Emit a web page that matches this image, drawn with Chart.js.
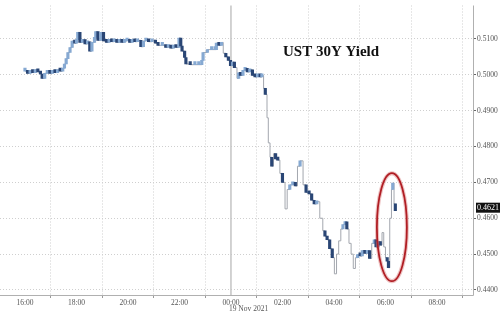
<!DOCTYPE html>
<html>
<head>
<meta charset="utf-8">
<script src="https://cdn.jsdelivr.net/npm/chart.js@4"></script>
<style>
  body { margin: 0; background: #fff; }
  canvas { display: block; }
</style>
</head>
<body>
<canvas id="yield-chart" width="500" height="312"></canvas>
<script>
	// times after 16:00 on 18 Nov, then through 19 Nov
	var times = [
		'16:00','16:06','16:12','16:18','16:24','16:30','16:36','16:40','16:46','16:52','16:58',
		'17:04','17:10','17:16','17:22','17:28','17:32','17:36','17:40','17:45','17:50','17:56',
		'18:00','18:03','18:08','18:14','18:20','18:26','18:31','18:36','18:42','18:45','18:50','18:57',
		'19:03','19:10','19:16','19:22','19:28','19:34','19:40','19:46','19:52','19:58',
		'20:04','20:10','20:16','20:22','20:30','20:36','20:42','20:48','20:56',
		'21:04','21:10','21:20','21:28','21:34','21:40','21:46','21:52','21:59',
		'22:03','22:06','22:12','22:15','22:25','22:36','22:45','22:52','22:55',
		'23:05','23:15','23:23','23:26','23:32','23:38','23:42','23:48','23:54','23:59',
		'00:04','00:08','00:14','00:18','00:22','00:28','00:33','00:38','00:44','00:50','00:56',
		'01:02','01:08','01:12','01:16','01:20','01:24','01:27','01:31','01:35','01:39','01:44','01:49','01:54',
		'02:00','02:06','02:11','02:17','02:24','02:30','02:35','02:41','02:48','02:55',
		'03:02','03:08','03:14','03:20','03:27','03:34','03:39','03:44','03:50','03:56',
		'04:01','04:06','04:11','04:16','04:21','04:26','04:30','04:35','04:40','04:45','04:50','04:55',
		'05:01','05:06','05:12','05:18','05:23','05:28','05:34','05:38','05:43','05:48','05:52','05:56',
		'06:00','06:04','06:07','06:10','06:14','06:17','06:20','06:23'
	];
	var closes = [
		0.5010,0.5004,0.5012,0.5006,0.5014,0.5008,0.5002,0.4990,0.5004,0.5010,0.5004,
		0.5012,0.5006,0.5014,0.5010,0.5018,0.5030,0.5045,0.5062,0.5076,0.5094,0.5088,
		0.5098,0.5118,0.5090,0.5098,0.5086,0.5092,0.5066,0.5090,0.5104,0.5120,0.5096,0.5118,
		0.5094,0.5090,0.5098,0.5092,0.5094,0.5090,0.5098,0.5090,0.5094,0.5096,
		0.5090,0.5098,0.5092,0.5096,0.5078,0.5094,0.5098,0.5092,0.5096,
		0.5088,0.5082,0.5082,0.5076,0.5082,0.5074,0.5082,0.5076,0.5102,
		0.5080,0.5066,0.5048,0.5030,0.5028,0.5028,0.5028,0.5040,0.5062,
		0.5070,0.5070,0.5070,0.5088,0.5082,0.5090,0.5060,0.5050,0.5040,0.5025,
		0.5035,0.5020,0.4990,0.5005,0.4998,0.5012,0.5018,0.5008,0.5014,0.4998,0.4994,
		0.5000,0.4994,0.4998,0.4962,0.4945,0.4880,0.4810,0.4770,0.4745,0.4780,0.4765,0.4762,0.4725,
		0.4700,0.4626,0.4680,0.4693,0.4700,0.4690,0.4745,0.4760,0.4693,0.4672,
		0.4668,0.4650,0.4640,0.4646,0.4600,0.4565,0.4550,0.4540,0.4515,0.4490,
		0.4445,0.4500,0.4537,0.4570,0.4582,0.4590,0.4570,0.4530,0.4500,0.4460,0.4490,0.4498,
		0.4495,0.4510,0.4502,0.4510,0.4488,0.4530,0.4540,0.4520,0.4535,0.4525,0.4560,0.4520,
		0.4490,0.4480,0.4462,0.4600,0.4680,0.4698,0.4640,0.4621
	];
	var xTickHours = [0, 2, 4, 6, 8, 10, 12, 14, 16];
	var xTickLabels = ['16:00','18:00','20:00','22:00','00:00','02:00','04:00','06:00','08:00'];
	var yTicks = [0.44, 0.45, 0.46, 0.47, 0.48, 0.49, 0.50, 0.51];

	// hours since 16:00, rolling over midnight
	var hrs = times.map(function (t) {
		var p = t.split(':');
		var h = +p[0] + p[1] / 60 - 16;
		return h < 0 ? h + 24 : h;
	});

	var linePts = hrs.map(function (h, i) { return {x: h, y: closes[i]}; });
	var bodies = hrs.map(function (h, i) {
		var open = i > 0 ? closes[i - 1] : closes[i];
		return {x: h, y: [open, closes[i]]};
	});

	const serif = '"Liberation Serif", "DejaVu Serif", serif';

	const extras = {
		id: 'extras',
		beforeDatasetsDraw(chart) {
			const c = chart.ctx, a = chart.chartArea, xs = chart.scales.x;
			c.save();
			// axis lines, solid
			c.strokeStyle = '#b0b0b0';
			c.lineWidth = 1;
			c.beginPath();
			c.moveTo(a.right + 0.5, a.top);
			c.lineTo(a.right + 0.5, a.bottom + 0.5);
			c.lineTo(a.left, a.bottom + 0.5);
			c.stroke();
			// day divider at midnight
			const mx = xs.getPixelForValue(8);
			c.strokeStyle = '#c4c4c4';
			c.lineWidth = 1.5;
			c.beginPath();
			c.moveTo(mx, a.top);
			c.lineTo(mx, a.bottom);
			c.stroke();
			// title
			c.fillStyle = '#111';
			c.font = 'bold 15px ' + serif;
			c.textBaseline = 'middle';
			c.fillText('UST 30Y Yield', 283, 52);
			c.restore();
		},
		afterDraw(chart) {
			const c = chart.ctx, a = chart.chartArea, xs = chart.scales.x, ys = chart.scales.y;
			c.save();
			// red ellipse around the last move
			c.strokeStyle = 'rgba(200,60,60,0.3)';
			c.lineWidth = 4;
			c.beginPath();
			c.ellipse(xs.getPixelForValue(14.25), ys.getPixelForValue(0.4575), 15, 54, 0, 0, Math.PI * 2);
			c.stroke();
			c.strokeStyle = '#b01e24';
			c.lineWidth = 1.8;
			c.stroke();
			// last value tag
			const last = closes[closes.length - 1];
			const ty = ys.getPixelForValue(last) - 3;
			c.fillStyle = '#111';
			c.fillRect(a.right + 3, ty - 5, 24, 10);
			c.fillStyle = '#fff';
			c.font = '8px ' + serif;
			c.textBaseline = 'middle';
			c.fillText(last.toFixed(4), a.right + 4, ty);
			// date under midnight
			c.fillStyle = '#555';
			c.font = '7.5px ' + serif;
			c.textBaseline = 'alphabetic';
			c.fillText('19 Nov 2021', xs.getPixelForValue(8) - 2, 311);
			c.restore();
		}
	};

	var ctx = document.getElementById('yield-chart').getContext('2d');
	var myChart = new Chart(ctx, {
		data: {
			datasets: [{
				type: 'line',
				data: linePts,
				stepped: 'before',
				borderColor: '#a3a7ae',
				borderWidth: 1,
				pointRadius: 0,
				order: 2
			}, {
				type: 'bar',
				data: bodies,
				barThickness: 2.5,
				minBarLength: 3,
				backgroundColor: function (c) {
					var r = c.raw;
					if (!r) return '#5f86b8';
					var d = r.y[1] - r.y[0];
					// big moves show only as the thin line
					if (Math.abs(d) > 0.003) return 'rgba(0,0,0,0)';
					return d < 0 ? '#2a4675' : '#86a9d2';
				},
				borderWidth: 0,
				order: 1
			}]
		},
		options: {
			responsive: false,
			animation: false,
			layout: {padding: 0},
			plugins: {legend: {display: false}, tooltip: {enabled: false}},
			scales: {
				x: {
					type: 'linear',
					min: -0.97,
					max: 17.4,
					offset: false,
					afterBuildTicks: function (s) {
						s.ticks = xTickHours.map(function (v) { return {value: v}; });
					},
					afterFit: function (s) { s.height = 17; },
					ticks: {
						callback: function (v) { return xTickLabels[xTickHours.indexOf(v)]; },
						font: {family: serif, size: 7.5},
						color: '#555',
						maxRotation: 0,
						padding: 1
					},
					grid: {color: '#cfcfcf', tickLength: 3, tickColor: '#999'},
					border: {display: false, dash: [1, 2]}
				},
				y: {
					position: 'right',
					min: 0.4386,
					max: 0.5193,
					afterBuildTicks: function (s) {
						s.ticks = yTicks.map(function (v) { return {value: v}; });
					},
					afterFit: function (s) { s.width = 27; },
					ticks: {
						callback: function (v) { return v.toFixed(4); },
						font: {family: serif, size: 7.5},
						color: '#555',
						padding: 1
					},
					grid: {color: '#cfcfcf', tickLength: 3, tickColor: '#666'},
					border: {display: false, dash: [1, 2]}
				}
			}
		},
		plugins: [extras]
	});
</script>
</body>
</html>
